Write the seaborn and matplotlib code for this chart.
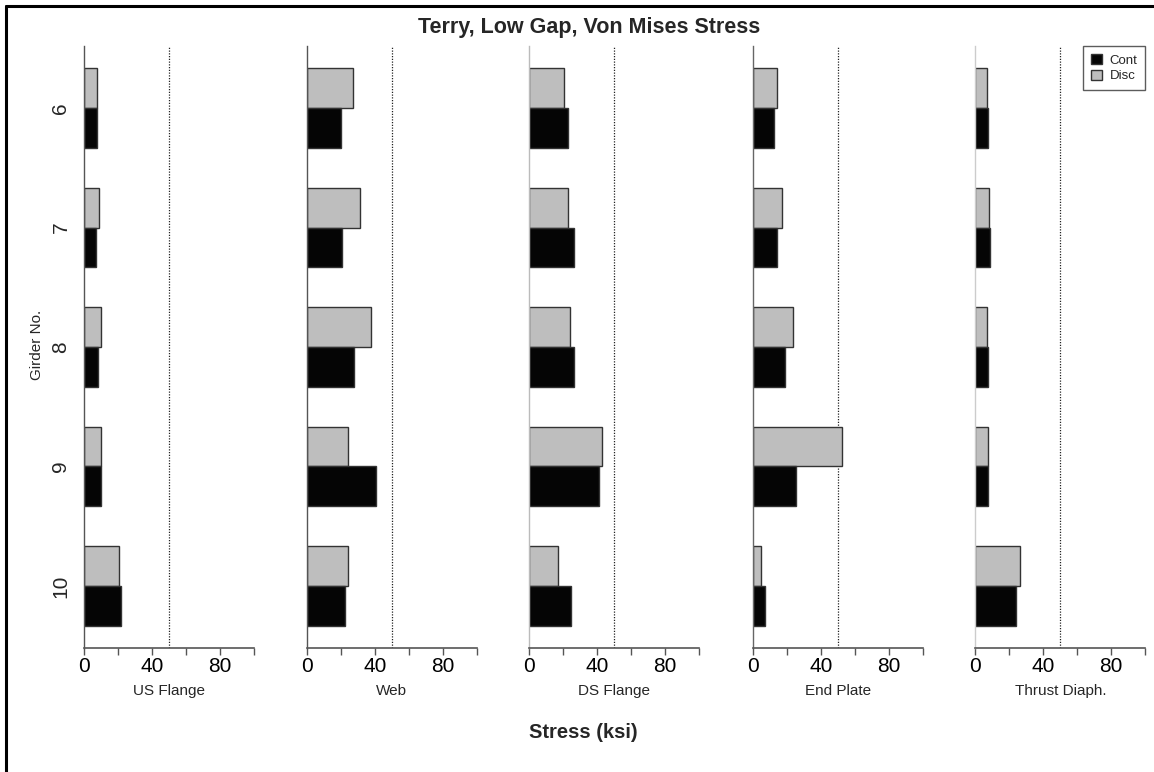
import numpy as np
import pandas as pd
import seaborn as sns
import matplotlib
matplotlib.use("Agg")
import matplotlib.pyplot as plt
from matplotlib.patches import Patch
from matplotlib.lines import Line2D

# ---------------- data ----------------
girders = ["6", "7", "8", "9", "10"]
components = ["US Flange", "Web", "DS Flange", "End Plate", "Thrust Diaph."]
cont_us = [7.5, 6.9, 8.0, 9.8, 21.6]
disc_us = [7.3, 8.4, 9.8, 9.6, 20.2]
cont_web = [20.4, 21.0, 28.0, 41.0, 22.4]
disc_web = [27.5, 31.4, 37.6, 24.5, 24.5]
cont_ds = [22.5, 26.5, 26.5, 41.2, 24.7]
disc_ds = [20.4, 22.9, 24.1, 42.9, 17.1]
cont_ep = [12.5, 14.1, 18.8, 25.3, 7.1]
disc_ep = [14.1, 17.1, 23.9, 52.4, 5.1]
cont_td = [7.5, 8.4, 7.3, 7.3, 23.9]
disc_td = [6.9, 8.2, 6.9, 7.3, 26.5]
xticks = [0, 20, 40, 60, 80, 100]
xticklabels = ["0", "", "40", "", "80", ""]
limit_line = 50

cont_all = [cont_us, cont_web, cont_ds, cont_ep, cont_td]
disc_all = [disc_us, disc_web, disc_ds, disc_ep, disc_td]

W, H = 1154, 772
sns.set_theme(style="white")
plt.rcParams["font.family"] = ["Liberation Sans", "DejaVu Sans"]

fig = plt.figure(figsize=(W / 100, H / 100), dpi=100)
fig.patch.set_facecolor("white")

palette = {"Cont": "#050505", "Disc": "#BEBEBE"}
x0s = [84.3, 306.7, 529.3, 752.7, 975.3]
panel_w = 170
top_px, bot_px = 46, 648
yaxis_colors = ["#555555", "#555555", "#BBBBBB", "#666666", "#CCCCCC"]

axes = []
for k, comp in enumerate(components):
    ax = fig.add_axes([x0s[k] / W, 1 - bot_px / H, panel_w / W, (bot_px - top_px) / H])
    axes.append(ax)
    df = pd.DataFrame({
        "Girder": girders * 2,
        "Stress": list(cont_all[k]) + list(disc_all[k]),
        "Type": ["Cont"] * len(girders) + ["Disc"] * len(girders),
    })
    sns.barplot(data=df, y="Girder", x="Stress", hue="Type", order=girders,
                hue_order=["Disc", "Cont"], palette=palette, width=2 / 3, gap=0,
                orient="h", edgecolor="#333333", linewidth=1.0, saturation=1,
                legend=False, ax=ax, errorbar=None)
    ax.axvline(limit_line, ls=(0, (1, 1.2)), color="#222222", lw=0.9, zorder=0)
    ax.set_xlim(0, 100)
    ax.set_ylim(4.52, -0.52)
    ax.set_facecolor("none")
    for s in ["top", "right"]:
        ax.spines[s].set_visible(False)
    ax.spines["left"].set_color(yaxis_colors[k])
    ax.spines["left"].set_linewidth(1.0)
    ax.spines["bottom"].set_color("#555555")
    ax.spines["bottom"].set_linewidth(1.2)
    ax.spines["bottom"].set_bounds(0, 100)
    ax.set_xticks(xticks)
    ax.set_xticklabels(xticklabels, fontsize=15)
    ax.tick_params(axis="x", bottom=True, length=5, width=1, color="#555555",
                   pad=1.5, labelcolor="black")
    ax.set_xlabel("")
    ax.set_ylabel("")
    if k == 0:
        ax.set_yticks(range(len(girders)))
        ax.set_yticklabels(girders, rotation=90, va="center", fontsize=15)
        ax.tick_params(axis="y", length=0, pad=10)
    else:
        ax.set_yticks([])
    fig.text((x0s[k] + panel_w / 2) / W, 1 - 691 / H, comp, ha="center", va="center",
             fontsize=11)

# legend
handles = [Patch(facecolor=palette["Cont"], edgecolor="#333333", label="Cont"),
           Patch(facecolor=palette["Disc"], edgecolor="#333333", label="Disc")]
leg = axes[-1].legend(handles=handles, loc="upper right", bbox_to_anchor=(1.0, 1.0),
                      frameon=True, fancybox=False, fontsize=9.5, handlelength=0.8,
                      handleheight=0.8, borderaxespad=0, handletextpad=0.6,
                      labelspacing=0.25, borderpad=0.6)
leg.get_frame().set_edgecolor("#333333")
leg.get_frame().set_linewidth(1.0)

# titles
fig.text(589 / W, 1 - 28 / H, "Terry, Low Gap, Von Mises Stress", ha="center",
         va="center", fontsize=15.5, fontweight="bold")
fig.text(583 / W, 1 - 733 / H, "Stress (ksi)", ha="center", va="center",
         fontsize=14.5, fontweight="bold")
fig.text(37 / W, 1 - 345 / H, "Girder No.", ha="center", va="center", rotation=90,
         fontsize=11)

# outer frame (left and top edges)
fig.add_artist(Line2D([5.7 / W, 5.7 / W], [0, 1 - 5.7 / H], transform=fig.transFigure,
                      color="black", lw=2.2))
fig.add_artist(Line2D([5.7 / W, 1], [1 - 5.7 / H, 1 - 5.7 / H], transform=fig.transFigure,
                      color="black", lw=2.2))

fig.savefig("out.png", dpi=100, facecolor="white")
